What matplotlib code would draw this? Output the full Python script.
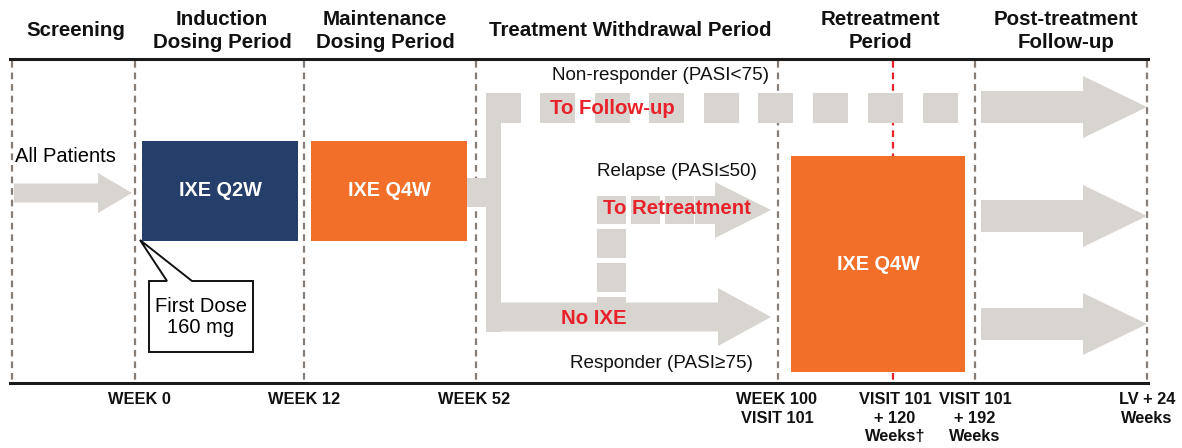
import matplotlib
matplotlib.use("Agg")
import matplotlib.pyplot as plt
from matplotlib.patches import Rectangle, Polygon

plt.rcParams['font.family'] = ['Liberation Sans', 'DejaVu Sans']

# phase headers (text, x centre)
headers = ["Screening", "Induction\nDosing Period", "Maintenance\nDosing Period",
           "Treatment Withdrawal Period", "Retreatment\nPeriod", "Post-treatment\nFollow-up"]
header_x = [76, 222, 385, 630, 880, 1066]

# timepoints along the bottom
timepoints = ["WEEK 0", "WEEK 12", "WEEK 52", "WEEK 100\nVISIT 101",
              "VISIT 101\n+ 120\nWeeks\u2020", "VISIT 101\n+ 192\nWeeks", "LV + 24\nWeeks"]
timepoint_x = [139, 304, 474, 777, 895, 975, 1147]

# dashed period boundaries
boundaries = [12, 135, 304, 476, 778, 975, 1147]
red_line_x = 893

# dosing boxes: label, x0, x1, y0, y1, colour
boxes = [("IXE Q2W", 142, 298, 141, 241, "#253f6a"),
         ("IXE Q4W", 311, 467, 141, 241, "#f26f29"),
         ("IXE Q4W", 791, 965, 156, 372, "#f26f29")]

# branch texts
branch_labels = ["Non-responder (PASI<75)", "Relapse (PASI\u226450)", "Responder (PASI\u226575)"]
branch_xy = [(661, 75), (677, 171), (661, 363)]
action_labels = ["To Follow-up", "To Retreatment", "No IXE"]
action_xy = [(612, 108), (677, 209), (594, 318)]

# squares of the dashed non-responder path
followup_dash_x = [540, 595, 649, 704, 758, 813, 868, 923]
relapse_dash_x = [597, 631, 665]
relapse_drop_y = [229, 263, 297]

# post-treatment arrows (centre y)
post_arrow_y = [107, 216, 324]

GRAY = "#d8d5d1"
LINE = "#857d76"
RED = "#e8212b"

fig = plt.figure(figsize=(11.82, 4.48), dpi=100)
ax = fig.add_axes([0, 0, 1, 1])
ax.set_xlim(0, 1182)
ax.set_ylim(448, 0)
ax.axis("off")


def arrow(x0, x1, yc, shaft_h, head_len, head_h, z=2):
    hx = x1 - head_len
    pts = [(x0, yc - shaft_h / 2), (hx, yc - shaft_h / 2), (hx, yc - head_h / 2),
           (x1, yc), (hx, yc + head_h / 2), (hx, yc + shaft_h / 2), (x0, yc + shaft_h / 2)]
    ax.add_patch(Polygon(pts, closed=True, fc=GRAY, ec="none", zorder=z))


def rect(x0, x1, y0, y1, color=GRAY, z=2):
    ax.add_patch(Rectangle((x0, y0), x1 - x0, y1 - y0, fc=color, ec="none", zorder=z))


# frame lines
ax.plot([10, 1148], [59, 59], color="#1a1a1a", lw=2.2, zorder=5)
ax.plot([10, 1148], [383, 383], color="#1a1a1a", lw=2.2, zorder=5)
for x in boundaries:
    ax.plot([x, x], [61, 381], color=LINE, lw=1.6, ls=(0, (3, 2.2)), zorder=1)
ax.plot([red_line_x, red_line_x], [61, 381], color=RED, lw=1.6, ls=(0, (3, 2.2)), zorder=1)

# headers
for t, x in zip(headers, header_x):
    ax.text(x, 31, t, ha="center", va="center", fontsize=14.8, fontweight="bold",
            linespacing=1.3, color="#111111")

# timepoints
for t, x in zip(timepoints, timepoint_x):
    ax.text(x, 392, t, ha="center", va="top", fontsize=11.8, fontweight="bold",
            linespacing=1.3, color="#111111")

# all patients arrow
ax.text(15, 156, "All Patients", ha="left", va="center", fontsize=14.5)
arrow(14, 132, 193, 19, 34, 40)

# boxes
for label, x0, x1, y0, y1, c in boxes:
    rect(x0, x1, y0, y1, color=c, z=3)
    ax.text((x0 + x1) / 2, (y0 + y1) / 2, label, ha="center", va="center",
            fontsize=14.3, fontweight="bold", color="white", zorder=4)

# withdrawal branching
rect(467, 501, 178, 207)
rect(486, 501, 93, 332)
rect(486, 521, 93, 123)
for x in followup_dash_x:
    rect(x, x + 35, 93, 123)
arrow(486, 771, 317, 29, 53, 58)
for x in relapse_dash_x:
    rect(x, x + 29, 196, 224)
arrow(695, 771, 210, 28, 56, 56)
for y in relapse_drop_y:
    rect(597, 626, y, min(y + 29, 305))

# post-treatment arrows
for y in post_arrow_y:
    arrow(981, 1147, y, 32, 64, 62)

for t, (x, y) in zip(branch_labels, branch_xy):
    ax.text(x, y, t, ha="center", va="center", fontsize=13.6, color="#111111", zorder=4)
for t, (x, y) in zip(action_labels, action_xy):
    ax.text(x, y, t, ha="center", va="center", fontsize=14.7, fontweight="bold",
            color=RED, zorder=4)

# first dose callout
callout = [(149, 281), (167, 281), (140, 240), (192, 281), (253, 281), (253, 352), (149, 352)]
ax.add_patch(Polygon(callout, closed=True, fc="white", ec="#111111", lw=1.4, zorder=6))
ax.text(201, 317, "First Dose\n160 mg", ha="center", va="center", fontsize=14.5,
        linespacing=1.18, zorder=7)

fig.savefig("out.png", dpi=100)
